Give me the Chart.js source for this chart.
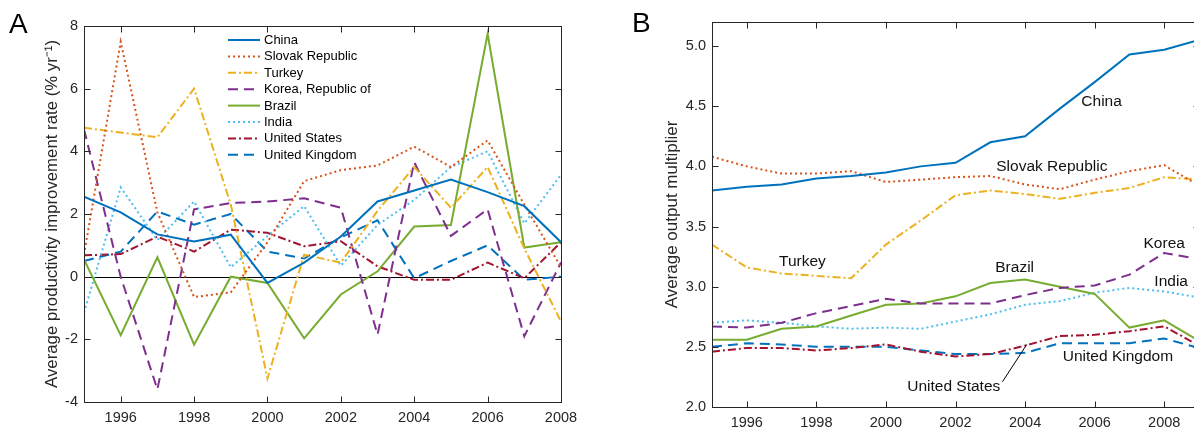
<!DOCTYPE html>
<html>
<head>
<meta charset="utf-8">
<title>Productivity and output multiplier</title>
<script src="https://cdn.jsdelivr.net/npm/chart.js@4"></script>
<style>
html, body { margin: 0; padding: 0; background: #fff; overflow: hidden; width: 1194px; height: 430px; }
#wrapA { position: absolute; left: 0; top: 0; width: 600px; height: 430px; }
#wrapB { position: absolute; left: 600px; top: 0; width: 610px; height: 430px; }
.tag { position: absolute; font: 28px 'Liberation Sans', Arial, sans-serif; line-height: 28px; color: #000; }
</style>
</head>
<body>
<div id="wrapA"><canvas id="chartA"></canvas></div>
<div id="wrapB"><canvas id="chartB"></canvas></div>
<div class="tag" style="left:9px;top:10px">A</div>
<div class="tag" style="left:632px;top:9px">B</div>
<script>
// Panel A - yearly productivity improvement rate
const yearsA = [1995, 1996, 1997, 1998, 1999, 2000, 2001, 2002, 2003, 2004, 2005, 2006, 2007, 2008];
const chinaA  = [2.55, 2.05, 1.35, 1.12, 1.34, -0.2, 0.45, 1.28, 2.4, 2.75, 3.1, 2.7, 2.25, 1.1];
const slovakA = [0.7, 7.5, 2.05, -0.65, -0.5, 1.1, 3.05, 3.4, 3.55, 4.15, 3.5, 4.35, 2.3, 0.3];
const turkeyA = [4.75, 4.6, 4.45, 6.0, 2.3, -3.25, 0.7, 0.45, 2.1, 3.5, 2.2, 3.5, 0.9, -1.43];
const koreaA  = [4.7, 0.0, -3.6, 2.15, 2.35, 2.4, 2.5, 2.2, -1.85, 3.65, 1.3, 2.15, -1.9, 0.45];
const brazilA = [0.55, -1.87, 0.62, -2.17, 0.0, -0.2, -1.97, -0.57, 0.17, 1.6, 1.65, 7.75, 0.93, 1.1];
const indiaA  = [-1.15, 2.85, 1.17, 2.4, 0.3, 1.3, 2.25, 0.35, 1.65, 2.45, 3.5, 4.0, 1.7, 3.25];
const usA     = [0.68, 0.72, 1.28, 0.8, 1.5, 1.4, 0.97, 1.13, 0.33, -0.1, -0.1, 0.45, -0.05, 1.1];
const ukA     = [0.5, 0.8, 2.08, 1.66, 2.0, 0.8, 0.58, 1.25, 1.8, -0.05, 0.5, 1.0, -0.1, 0.0];
const xTicksA = [1996, 1998, 2000, 2002, 2004, 2006, 2008];
const yTicksA = [-4, -2, 0, 2, 4, 6, 8];

// Panel B - average output multiplier
const yearsB = [1995, 1996, 1997, 1998, 1999, 2000, 2001, 2002, 2003, 2004, 2005, 2006, 2007, 2008, 2009];
const chinaB  = [3.8, 3.83, 3.85, 3.9, 3.92, 3.95, 4.0, 4.03, 4.2, 4.25, 4.48, 4.7, 4.93, 4.97, 5.05];
const slovakB = [4.08, 4.0, 3.94, 3.94, 3.96, 3.87, 3.89, 3.91, 3.92, 3.85, 3.81, 3.89, 3.96, 4.01, 3.84];
const turkeyB = [3.35, 3.16, 3.11, 3.09, 3.07, 3.35, 3.55, 3.76, 3.8, 3.77, 3.73, 3.78, 3.82, 3.91, 3.89];
const koreaB  = [2.67, 2.66, 2.7, 2.78, 2.84, 2.9, 2.86, 2.86, 2.86, 2.93, 2.99, 3.01, 3.1, 3.28, 3.23];
const brazilB = [2.56, 2.56, 2.65, 2.67, 2.76, 2.85, 2.86, 2.92, 3.03, 3.06, 3.0, 2.94, 2.66, 2.72, 2.55];
const indiaB  = [2.7, 2.72, 2.7, 2.67, 2.65, 2.66, 2.65, 2.71, 2.77, 2.85, 2.88, 2.95, 2.99, 2.96, 2.91];
const usB     = [2.46, 2.49, 2.49, 2.47, 2.49, 2.52, 2.46, 2.42, 2.44, 2.51, 2.59, 2.6, 2.63, 2.67, 2.51];
const ukB     = [2.5, 2.53, 2.52, 2.5, 2.5, 2.5, 2.47, 2.44, 2.44, 2.45, 2.53, 2.53, 2.53, 2.57, 2.49];
const xTicksB = [1996, 1998, 2000, 2002, 2004, 2006, 2008];
const yTicksB = [2.0, 2.5, 3.0, 3.5, 4.0, 4.5, 5.0];

const countries = ['China', 'Slovak Republic', 'Turkey', 'Korea, Republic of', 'Brazil', 'India', 'United States', 'United Kingdom'];

// line styles (matlab-like)
const styles = [
    { color: '#0072BD', dash: [] },
    { color: '#D95319', dash: [2, 3] },
    { color: '#EDB120', dash: [8, 3, 2, 3] },
    { color: '#7E2F8E', dash: [10, 6] },
    { color: '#77AC30', dash: [] },
    { color: '#4DBEEE', dash: [2, 3] },
    { color: '#A2142F', dash: [8, 3, 2, 3] },
    { color: '#0072BD', dash: [10, 6] }
];

// inline labels for panel B, placed in data units
const notesB = [
    { text: 'China', x: 2006.2, y: 4.54 },
    { text: 'Slovak Republic', x: 2004.77, y: 4.0 },
    { text: 'Turkey', x: 1997.6, y: 3.21 },
    { text: 'Brazil', x: 2003.7, y: 3.16 },
    { text: 'Korea', x: 2008.0, y: 3.36 },
    { text: 'India', x: 2008.2, y: 3.04 },
    { text: 'United Kingdom', x: 2006.67, y: 2.42 },
    { text: 'United States', x: 2001.95, y: 2.17 }
];
const leaderB = [[2003.35, 2.21], [2004.05, 2.52]];

const FONT = "'Liberation Sans', Arial, sans-serif";
const AXIS = '#262626';

function makeSets(xs, lists) {
    return lists.map((ys, i) => ({
        label: countries[i],
        data: xs.map((x, j) => ({ x: x, y: ys[j] })),
        borderColor: styles[i].color,
        borderDash: styles[i].dash,
        borderWidth: 2,
        borderCapStyle: 'butt',
        pointRadius: 0,
        tension: 0,
        fill: false
    }));
}

// box round the plot with inward ticks
const framePlugin = {
    id: 'frame',
    afterDraw(chart) {
        const { ctx, chartArea: a, scales } = chart;
        const x = scales.x, y = scales.y;
        ctx.save();
        ctx.strokeStyle = AXIS;
        ctx.lineWidth = 1;
        const L = Math.round(a.left) + 0.5, R = Math.round(a.right) + 0.5;
        const T = Math.round(a.top) + 0.5, B = Math.round(a.bottom) + 0.5;
        ctx.strokeRect(L, T, R - L, B - T);
        ctx.beginPath();
        x.ticks.forEach(t => {
            const px = Math.round(x.getPixelForValue(t.value)) + 0.5;
            ctx.moveTo(px, B); ctx.lineTo(px, B - 6);
            ctx.moveTo(px, T); ctx.lineTo(px, T + 6);
        });
        y.ticks.forEach(t => {
            const py = Math.round(y.getPixelForValue(t.value)) + 0.5;
            ctx.moveTo(L, py); ctx.lineTo(L + 6, py);
            ctx.moveTo(R, py); ctx.lineTo(R - 6, py);
        });
        ctx.stroke();
        ctx.restore();
    }
};

// black line at zero in panel A
const zeroPlugin = {
    id: 'zero',
    beforeDatasetsDraw(chart) {
        const { ctx, chartArea: a, scales } = chart;
        const py = Math.round(scales.y.getPixelForValue(0)) + 0.5;
        ctx.save();
        ctx.strokeStyle = '#000';
        ctx.lineWidth = 1;
        ctx.beginPath();
        ctx.moveTo(a.left, py);
        ctx.lineTo(a.right, py);
        ctx.stroke();
        ctx.restore();
    }
};

// legend of panel A, drawn inside the axes
const legendPlugin = {
    id: 'insideLegend',
    afterDraw(chart) {
        const { ctx, chartArea: a } = chart;
        ctx.save();
        ctx.font = '13px ' + FONT;
        ctx.textBaseline = 'middle';
        ctx.fillStyle = '#000';
        chart.data.datasets.forEach((ds, i) => {
            const yy = a.top + 14 + i * 16.4;
            const x0 = a.left + 144;
            ctx.strokeStyle = ds.borderColor;
            ctx.lineWidth = 2;
            ctx.setLineDash(ds.borderDash);
            ctx.beginPath();
            ctx.moveTo(x0, yy);
            ctx.lineTo(x0 + 32, yy);
            ctx.stroke();
            ctx.setLineDash([]);
            ctx.fillText(ds.label, x0 + 36, yy + 0.5);
        });
        ctx.restore();
    }
};

// text labels of panel B
const notesPlugin = {
    id: 'notes',
    afterDraw(chart) {
        const { ctx, scales } = chart;
        const x = scales.x, y = scales.y;
        ctx.save();
        ctx.font = '15.5px ' + FONT;
        ctx.fillStyle = '#111';
        ctx.textAlign = 'center';
        ctx.textBaseline = 'middle';
        notesB.forEach(n => ctx.fillText(n.text, x.getPixelForValue(n.x), y.getPixelForValue(n.y)));
        ctx.strokeStyle = '#000';
        ctx.lineWidth = 1;
        ctx.beginPath();
        ctx.moveTo(x.getPixelForValue(leaderB[0][0]), y.getPixelForValue(leaderB[0][1]));
        ctx.lineTo(x.getPixelForValue(leaderB[1][0]), y.getPixelForValue(leaderB[1][1]));
        ctx.stroke();
        ctx.restore();
    }
};

function tickFont() {
    return { family: FONT, size: 14.5 };
}

// Panel A
new Chart(document.getElementById('chartA'), {
    type: 'line',
    data: { datasets: makeSets(yearsA, [chinaA, slovakA, turkeyA, koreaA, brazilA, indiaA, usA, ukA]) },
    options: {
        responsive: true,
        maintainAspectRatio: false,
        animation: false,
        layout: { padding: { left: 42, top: 26, right: 39, bottom: 0 } },
        plugins: { legend: { display: false }, tooltip: { enabled: false } },
        scales: {
            x: {
                type: 'linear', min: 1995, max: 2008,
                grid: { display: false, drawTicks: false },
                border: { display: false },
                afterBuildTicks: s => { s.ticks = xTicksA.map(v => ({ value: v })); },
                afterFit: s => { s.height = 28; },
                ticks: { color: AXIS, font: tickFont(), padding: 7, maxRotation: 0, callback: v => String(v) }
            },
            y: {
                min: -4, max: 8,
                grid: { display: false, drawTicks: false },
                border: { display: false },
                afterBuildTicks: s => { s.ticks = yTicksA.map(v => ({ value: v })); },
                afterFit: s => { s.width = 42; },
                ticks: { color: AXIS, font: tickFont(), padding: 6, callback: v => String(v) },
                title: { display: true, text: 'Average productivity improvement rate (% yr⁻¹)', color: AXIS,
                         font: { family: FONT, size: 16.8 }, padding: 0 }
            }
        }
    },
    plugins: [zeroPlugin, framePlugin, legendPlugin]
});

// Panel B
new Chart(document.getElementById('chartB'), {
    type: 'line',
    data: { datasets: makeSets(yearsB, [chinaB, slovakB, turkeyB, koreaB, brazilB, indiaB, usB, ukB]) },
    options: {
        responsive: true,
        maintainAspectRatio: false,
        animation: false,
        layout: { padding: { left: 62, top: 22, right: 11, bottom: 0 } },
        plugins: { legend: { display: false }, tooltip: { enabled: false } },
        scales: {
            x: {
                type: 'linear', min: 1995, max: 2009,
                grid: { display: false, drawTicks: false },
                border: { display: false },
                afterBuildTicks: s => { s.ticks = xTicksB.map(v => ({ value: v })); },
                afterFit: s => { s.height = 23; },
                ticks: { color: AXIS, font: tickFont(), padding: 7, maxRotation: 0, callback: v => String(v) }
            },
            y: {
                min: 2.0, max: 5.2,
                grid: { display: false, drawTicks: false },
                border: { display: false },
                afterBuildTicks: s => { s.ticks = yTicksB.map(v => ({ value: v })); },
                afterFit: s => { s.width = 50; },
                ticks: { color: AXIS, font: tickFont(), padding: 6, callback: v => Number(v).toFixed(1) },
                title: { display: true, text: 'Average output multiplier', color: AXIS,
                         font: { family: FONT, size: 17 }, padding: 0 }
            }
        }
    },
    plugins: [framePlugin, notesPlugin]
});
</script>
</body>
</html>
